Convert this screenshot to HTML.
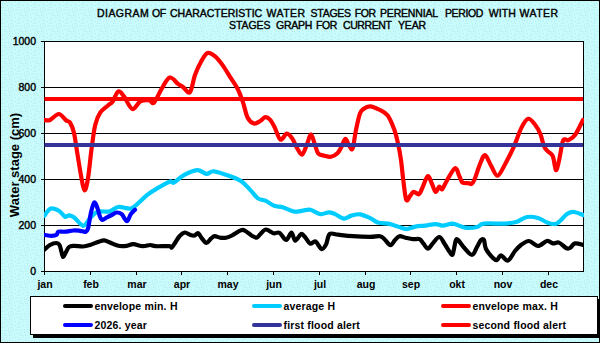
<!DOCTYPE html>
<html><head><meta charset="utf-8"><style>
html,body{margin:0;padding:0;width:600px;height:343px;overflow:hidden;background:#fff}
svg{display:block}
text{font-family:"Liberation Sans",sans-serif;font-weight:bold;fill:#000}
.t text{font-weight:normal;stroke:#000;stroke-width:0.4px}
</style></head><body>
<svg width="600" height="343" viewBox="0 0 600 343">
<defs>
<pattern id="dots" width="16" height="16" patternUnits="userSpaceOnUse">
<rect width="16" height="16" fill="#c8fcfc"/>
<path d="M0 9h1v1h-1zM1 7h1v1h-1zM2 1h1v1h-1zM2 3h1v1h-1zM2 5h1v1h-1zM2 10h1v1h-1zM2 13h1v1h-1zM3 7h1v1h-1zM4 3h1v1h-1zM4 13h1v1h-1zM4 15h1v1h-1zM5 10h1v1h-1zM6 1h1v1h-1zM6 15h1v1h-1zM7 5h1v1h-1zM8 9h1v1h-1zM8 11h1v1h-1zM9 2h1v1h-1zM9 13h1v1h-1zM9 15h1v1h-1zM10 4h1v1h-1zM10 11h1v1h-1zM11 7h1v1h-1zM11 9h1v1h-1zM11 15h1v1h-1zM12 1h1v1h-1zM12 4h1v1h-1zM12 12h1v1h-1zM13 10h1v1h-1zM14 14h1v1h-1zM15 1h1v1h-1zM15 5h1v1h-1z" fill="#b8e8f0"/>
</pattern>
<clipPath id="pc"><rect x="44" y="41" width="540" height="231"/></clipPath>
</defs>
<rect x="0.5" y="0.5" width="599" height="342" fill="url(#dots)" stroke="#000" stroke-width="1"/>
<g font-size="10.5" class="t"><text x="97.00" y="17" letter-spacing="0.45">DIAGRAM</text><text x="152.00" y="17" letter-spacing="-0.40">OF</text><text x="170.00" y="17" letter-spacing="0.00">CHARACTERISTIC</text><text x="266.60" y="17" letter-spacing="0.45">WATER</text><text x="310.60" y="17" letter-spacing="-0.27">STAGES</text><text x="354.80" y="17" letter-spacing="-0.40">FOR</text><text x="380.00" y="17" letter-spacing="-0.18">PERENNIAL</text><text x="445.00" y="17" letter-spacing="-0.40">PERIOD</text><text x="488.75" y="17" letter-spacing="0.07">WITH</text><text x="519.55" y="17" letter-spacing="0.45">WATER</text><text x="229.00" y="29" letter-spacing="-0.05">STAGES</text><text x="276.00" y="29" letter-spacing="-0.25">GRAPH</text><text x="316.00" y="29" letter-spacing="-0.40">FOR</text><text x="343.00" y="29" letter-spacing="-0.40">CURRENT</text><text x="398.00" y="29" letter-spacing="-0.15">YEAR</text></g>
<rect x="44.5" y="41.5" width="539" height="230" fill="#fff" stroke="#000" stroke-width="1"/>
<g stroke="#000" stroke-width="1"><line x1="41" y1="87.5" x2="583" y2="87.5"/><line x1="41" y1="133.5" x2="583" y2="133.5"/><line x1="41" y1="179.5" x2="583" y2="179.5"/><line x1="41" y1="225.5" x2="583" y2="225.5"/><line x1="41" y1="41.5" x2="44" y2="41.5"/><line x1="41" y1="271.5" x2="44" y2="271.5"/><line x1="44.5" y1="271" x2="44.5" y2="275"/><line x1="90.5" y1="271" x2="90.5" y2="275"/><line x1="136.5" y1="271" x2="136.5" y2="275"/><line x1="181.5" y1="271" x2="181.5" y2="275"/><line x1="227.5" y1="271" x2="227.5" y2="275"/><line x1="273.5" y1="271" x2="273.5" y2="275"/><line x1="319.5" y1="271" x2="319.5" y2="275"/><line x1="365.5" y1="271" x2="365.5" y2="275"/><line x1="410.5" y1="271" x2="410.5" y2="275"/><line x1="456.5" y1="271" x2="456.5" y2="275"/><line x1="502.5" y1="271" x2="502.5" y2="275"/><line x1="548.5" y1="271" x2="548.5" y2="275"/></g>
<g font-size="10.5" class="t"><text x="36" y="275.0" text-anchor="end">0</text><text x="36" y="229.0" text-anchor="end">200</text><text x="36" y="183.0" text-anchor="end">400</text><text x="36" y="137.0" text-anchor="end">600</text><text x="36" y="91.0" text-anchor="end">800</text><text x="36" y="45.0" text-anchor="end">1000</text></g><g font-size="10.5"><text x="45.0" y="287.5" text-anchor="middle">jan</text><text x="91.0" y="287.5" text-anchor="middle">feb</text><text x="137.0" y="287.5" text-anchor="middle">mar</text><text x="182.0" y="287.5" text-anchor="middle">apr</text><text x="228.0" y="287.5" text-anchor="middle">may</text><text x="274.0" y="287.5" text-anchor="middle">jun</text><text x="320.0" y="287.5" text-anchor="middle">jul</text><text x="366.0" y="287.5" text-anchor="middle">aug</text><text x="411.0" y="287.5" text-anchor="middle">sep</text><text x="457.0" y="287.5" text-anchor="middle">okt</text><text x="503.0" y="287.5" text-anchor="middle">nov</text><text x="549.0" y="287.5" text-anchor="middle">dec</text></g>
<text font-size="13" text-anchor="middle" transform="translate(19,165) rotate(-90)">Water stage (cm)</text>
<g fill="none" stroke-linecap="round" stroke-linejoin="round" clip-path="url(#pc)">
<path d="M44.5,249.5 C45.4,248.8 48.1,246.1 50.0,245.0 C51.9,243.9 54.4,243.0 56.0,243.0 C57.6,243.0 58.6,243.5 59.5,245.0 C60.4,246.5 60.9,250.0 61.5,252.0 C62.1,254.0 62.5,256.8 63.2,257.0 C63.9,257.2 64.5,254.7 65.5,253.0 C66.5,251.3 67.6,248.2 69.0,247.0 C70.4,245.8 71.7,245.9 74.0,245.8 C76.3,245.7 80.3,246.6 83.0,246.5 C85.7,246.4 87.5,245.8 90.0,245.0 C92.5,244.2 95.6,242.8 98.0,242.0 C100.4,241.2 102.2,240.2 104.2,240.3 C106.2,240.4 107.7,241.6 110.0,242.5 C112.3,243.4 115.5,245.2 118.3,245.8 C121.1,246.4 124.2,246.1 126.7,245.8 C129.2,245.5 130.6,244.1 133.3,244.2 C136.0,244.3 140.0,246.1 142.8,246.2 C145.7,246.3 148.3,245.0 150.4,245.0 C152.5,245.0 152.3,246.0 155.4,246.2 C158.5,246.4 166.5,246.0 169.2,246.2 C171.9,246.4 170.7,248.0 171.7,247.5 C172.7,247.0 173.7,244.9 175.0,243.0 C176.3,241.1 177.9,237.9 179.5,236.2 C181.1,234.4 182.9,232.8 184.7,232.5 C186.4,232.2 188.4,234.2 190.0,234.7 C191.6,235.2 193.1,235.8 194.5,235.5 C195.9,235.2 196.9,232.7 198.2,233.2 C199.4,233.7 200.6,236.9 202.0,238.5 C203.4,240.1 205.0,243.0 206.5,243.0 C208.0,243.0 209.6,239.6 211.0,238.5 C212.4,237.4 213.2,236.3 214.7,236.2 C216.2,236.1 218.1,237.4 220.0,237.7 C221.9,237.9 224.0,238.1 226.0,237.7 C228.0,237.3 229.5,236.8 232.0,235.5 C234.5,234.2 238.8,230.9 241.0,230.2 C243.2,229.4 243.8,230.1 245.5,231.0 C247.2,231.9 249.6,234.4 251.5,235.5 C253.4,236.6 255.2,237.9 256.7,237.7 C258.2,237.4 258.9,235.4 260.5,234.0 C262.1,232.6 263.8,229.6 266.0,229.5 C268.2,229.4 271.2,232.6 273.5,233.2 C275.8,233.8 277.4,231.7 279.5,232.8 C281.6,233.9 284.2,240.1 286.2,240.0 C288.2,239.9 290.0,232.4 291.5,232.5 C293.0,232.6 293.6,240.4 295.2,240.7 C296.8,240.9 299.6,234.6 301.2,234.0 C302.8,233.4 303.5,235.4 305.0,237.0 C306.5,238.6 308.4,242.9 310.2,243.7 C311.9,244.4 313.6,240.6 315.5,241.5 C317.4,242.4 319.8,248.5 321.5,249.0 C323.2,249.5 324.6,247.0 326.0,244.5 C327.4,242.0 327.7,235.6 329.7,234.0 C331.7,232.4 334.2,234.3 338.0,234.7 C341.8,235.1 347.2,235.8 352.6,236.2 C358.0,236.6 365.6,236.9 370.2,236.9 C374.8,236.9 377.6,235.8 380.0,236.2 C382.4,236.6 382.8,237.7 384.5,239.2 C386.2,240.7 388.8,245.1 390.5,245.2 C392.2,245.3 393.5,241.5 395.0,240.0 C396.5,238.5 397.8,236.6 399.5,236.2 C401.2,235.8 403.2,237.2 405.5,237.7 C407.8,238.2 410.6,238.9 413.0,239.2 C415.4,239.4 417.9,238.4 419.7,239.2 C421.4,239.9 422.1,242.1 423.5,243.7 C424.9,245.3 426.5,248.7 428.0,248.7 C429.5,248.7 430.6,245.6 432.5,243.7 C434.4,241.8 437.2,237.0 439.2,237.0 C441.2,237.0 442.8,241.2 444.5,243.7 C446.2,246.2 448.3,250.2 449.7,252.0 C451.1,253.8 451.7,256.1 452.7,254.2 C453.7,252.3 454.8,243.1 455.7,240.7 C456.6,238.3 456.6,238.9 458.0,240.0 C459.4,241.1 461.7,245.0 464.0,247.5 C466.3,250.0 469.8,255.1 472.0,255.0 C474.2,254.9 475.5,249.5 477.0,247.0 C478.5,244.5 479.8,241.2 481.0,240.0 C482.2,238.8 483.2,238.5 484.0,240.0 C484.8,241.5 484.5,246.0 486.0,249.0 C487.5,252.0 491.2,256.2 493.0,258.0 C494.8,259.8 495.7,260.4 497.0,260.0 C498.3,259.6 499.2,255.3 501.0,255.4 C502.8,255.5 505.7,261.3 508.0,260.6 C510.3,259.9 512.8,253.6 515.0,251.0 C517.2,248.4 518.7,246.7 521.0,245.0 C523.3,243.3 526.2,240.8 529.0,241.0 C531.8,241.2 535.0,246.0 538.0,246.0 C541.0,246.0 544.5,241.4 547.0,241.0 C549.5,240.6 551.0,243.1 553.0,243.4 C555.0,243.7 556.8,241.8 559.0,242.6 C561.2,243.4 564.2,247.1 566.0,248.0 C567.8,248.9 568.5,248.8 570.0,248.0 C571.5,247.2 572.8,243.9 575.0,243.4 C577.2,242.9 581.7,244.7 583.0,245.0" stroke="#000" stroke-width="4.2"/>
<path d="M44.2,215.8 C45.3,214.6 48.3,209.4 50.8,208.6 C53.3,207.8 56.8,209.7 59.2,211.0 C61.6,212.3 63.3,216.0 65.0,216.7 C66.7,217.4 67.7,215.2 69.2,215.3 C70.7,215.4 71.9,215.8 74.2,217.5 C76.5,219.2 80.7,225.7 83.3,225.8 C85.9,225.9 87.6,220.7 90.0,218.3 C92.4,216.0 94.3,212.8 97.5,211.7 C100.7,210.6 105.7,212.3 109.2,211.5 C112.7,210.7 114.7,207.5 118.3,207.0 C121.9,206.5 127.4,209.3 130.8,208.6 C134.2,207.9 136.0,205.0 138.8,202.7 C141.6,200.4 144.5,197.0 147.6,194.6 C150.7,192.2 153.8,190.3 157.6,188.1 C161.3,185.9 167.4,182.3 170.1,181.4 C172.8,180.5 171.6,183.7 173.9,182.6 C176.2,181.5 180.0,177.2 183.9,175.1 C187.8,173.0 193.4,170.3 197.2,170.1 C201.0,169.9 203.7,173.6 206.5,173.8 C209.3,174.0 210.0,170.9 214.0,171.3 C218.0,171.7 225.7,174.6 230.3,176.3 C234.9,178.0 238.2,179.1 241.6,181.4 C244.9,183.7 247.7,187.3 250.4,190.1 C253.1,192.9 255.4,196.6 257.9,198.4 C260.4,200.2 262.7,199.5 265.4,200.7 C268.1,201.9 271.3,204.6 274.2,205.7 C277.1,206.8 279.5,206.3 282.8,207.3 C286.1,208.3 290.8,211.1 294.1,211.6 C297.5,212.1 300.2,210.9 302.9,210.6 C305.6,210.3 307.5,209.2 310.4,209.8 C313.3,210.4 317.4,213.7 320.5,214.1 C323.6,214.5 326.4,212.3 328.8,212.3 C331.2,212.3 332.5,213.1 335.0,214.1 C337.5,215.1 341.1,218.3 343.8,218.6 C346.5,218.8 348.7,216.3 351.4,215.6 C354.1,214.9 357.0,213.9 360.1,214.3 C363.2,214.7 367.3,216.8 370.2,218.1 C373.1,219.4 374.4,221.4 377.7,222.4 C381.0,223.4 386.8,223.4 390.2,224.1 C393.6,224.8 395.1,225.8 397.8,226.6 C400.5,227.4 403.6,229.1 406.5,229.1 C409.4,229.1 412.2,227.2 415.3,226.6 C418.4,226.0 422.0,226.0 425.3,225.6 C428.6,225.2 432.5,224.1 435.4,224.1 C438.3,224.1 440.0,225.7 442.9,225.6 C445.8,225.5 449.2,223.3 452.9,223.6 C456.6,223.9 461.0,227.0 465.0,227.6 C469.0,228.2 473.8,227.7 477.0,227.0 C480.2,226.3 479.3,224.2 484.0,223.6 C488.7,223.0 499.7,223.9 505.0,223.6 C510.3,223.3 512.3,223.1 516.0,222.0 C519.7,220.9 523.3,217.7 527.0,217.0 C530.7,216.3 534.7,217.1 538.0,218.0 C541.3,218.9 544.2,221.4 547.0,222.4 C549.8,223.4 552.8,224.2 555.0,224.0 C557.2,223.8 558.0,222.7 560.0,221.0 C562.0,219.3 564.7,215.5 567.0,214.0 C569.3,212.5 571.3,211.8 574.0,212.0 C576.7,212.2 581.5,214.5 583.0,215.0" stroke="#00ccff" stroke-width="4.2"/>
<path d="M44.0,120.0 C45.0,120.0 47.5,121.0 50.0,120.0 C52.5,119.0 56.1,113.9 58.8,114.0 C61.5,114.1 64.4,119.1 66.3,120.5 C68.2,121.9 68.7,120.5 70.0,122.5 C71.3,124.5 72.6,127.2 73.9,132.6 C75.2,138.0 76.3,147.5 77.6,155.0 C78.8,162.5 80.3,171.8 81.4,177.7 C82.5,183.6 83.4,189.9 84.4,190.3 C85.5,190.7 86.5,186.9 87.7,180.2 C88.9,173.5 90.2,159.3 91.4,150.1 C92.7,140.9 93.7,131.2 95.2,125.0 C96.7,118.8 98.1,115.9 100.2,112.7 C102.3,109.5 105.6,107.6 107.7,105.7 C109.8,103.8 110.9,103.8 112.7,101.4 C114.5,99.0 116.4,92.2 118.3,91.4 C120.2,90.6 121.7,93.5 124.0,96.4 C126.3,99.3 129.6,108.2 132.3,109.0 C135.0,109.8 137.5,102.9 140.3,101.4 C143.1,99.9 146.7,100.0 149.0,100.2 C151.3,100.4 151.9,104.6 154.0,102.7 C156.1,100.8 159.0,93.1 161.6,88.9 C164.2,84.7 167.0,78.4 169.7,77.6 C172.4,76.8 175.8,82.3 178.0,83.9 C180.2,85.5 181.0,85.6 183.0,87.0 C185.0,88.4 188.0,94.2 190.0,92.2 C192.0,90.2 193.1,80.2 195.0,75.1 C196.9,69.9 199.2,65.0 201.3,61.3 C203.4,57.6 205.3,53.8 207.6,53.0 C209.9,52.2 212.6,54.3 215.1,56.3 C217.6,58.3 220.1,61.6 222.6,65.1 C225.1,68.6 227.7,73.1 230.2,77.1 C232.7,81.1 235.6,84.9 237.7,88.9 C239.8,93.0 241.0,96.6 242.7,101.4 C244.4,106.2 245.8,114.1 247.7,117.8 C249.6,121.5 251.9,123.0 254.0,123.5 C256.1,124.0 258.4,122.0 260.3,121.0 C262.2,120.0 263.7,117.4 265.3,117.2 C266.9,117.0 268.4,117.9 270.0,119.6 C271.6,121.3 273.1,124.2 274.8,127.6 C276.5,130.9 278.4,138.7 280.4,139.7 C282.4,140.7 284.8,133.8 286.8,133.7 C288.8,133.6 290.8,136.4 292.5,138.9 C294.2,141.4 295.7,145.9 297.3,148.5 C298.9,151.1 300.5,155.3 302.1,154.6 C303.7,153.9 305.4,147.9 306.9,144.5 C308.4,141.1 309.6,134.4 310.9,134.4 C312.2,134.4 313.7,141.3 314.9,144.5 C316.1,147.7 316.5,151.4 318.1,153.3 C319.7,155.2 322.4,155.1 324.5,155.7 C326.6,156.3 328.9,157.2 331.0,156.8 C333.1,156.4 335.7,155.0 337.4,153.3 C339.1,151.7 340.1,149.3 341.4,146.9 C342.7,144.5 344.1,139.0 345.4,138.9 C346.7,138.8 348.2,144.5 349.4,146.1 C350.6,147.7 351.5,151.0 352.6,148.5 C353.7,146.0 354.6,136.7 355.8,130.9 C357.0,125.2 358.5,117.7 359.8,114.0 C361.1,110.3 361.8,110.3 363.5,109.0 C365.2,107.7 367.6,106.2 370.2,106.3 C372.8,106.4 376.0,108.0 378.9,109.5 C381.8,111.0 385.2,112.3 387.7,115.5 C390.2,118.7 392.3,124.3 394.0,128.8 C395.7,133.3 396.6,137.4 397.8,142.6 C399.0,147.8 400.1,153.8 401.0,160.0 C401.9,166.2 402.3,172.9 403.2,179.5 C404.1,186.1 405.1,196.9 406.2,199.7 C407.3,202.4 408.8,197.3 410.0,196.0 C411.2,194.7 412.2,192.1 413.7,191.8 C415.2,191.5 417.5,195.0 419.0,194.2 C420.5,193.4 421.2,190.0 422.7,187.0 C424.1,184.0 426.2,176.8 427.7,176.2 C429.2,175.6 430.4,180.6 431.7,183.2 C433.0,185.8 434.2,191.2 435.5,191.8 C436.8,192.4 438.1,187.1 439.2,186.7 C440.3,186.3 440.9,190.1 442.2,189.2 C443.4,188.2 444.6,184.5 446.7,181.0 C448.8,177.5 452.9,168.9 455.0,168.2 C457.1,167.4 458.2,174.1 459.5,176.5 C460.8,178.9 461.0,181.4 462.5,182.5 C464.0,183.6 467.0,182.9 468.5,183.2 C470.0,183.4 470.5,184.6 471.5,184.0 C472.5,183.4 473.1,182.8 474.5,179.5 C475.9,176.2 478.3,168.0 480.1,163.9 C481.9,159.8 483.2,154.7 485.1,155.1 C487.0,155.5 489.3,163.0 491.4,166.4 C493.5,169.8 495.4,176.1 497.7,175.7 C500.0,175.3 502.5,168.8 505.2,163.9 C507.9,159.0 511.3,152.5 514.0,146.4 C516.7,140.3 519.1,132.2 521.5,127.6 C523.9,123.0 526.0,119.2 528.3,118.8 C530.6,118.4 533.3,122.5 535.3,125.0 C537.3,127.5 538.8,130.2 540.3,133.8 C541.8,137.4 542.8,143.5 544.1,146.4 C545.4,149.3 546.4,149.7 547.9,151.4 C549.4,153.1 551.6,153.3 552.9,156.4 C554.2,159.5 554.9,169.6 555.9,170.2 C556.9,170.8 558.0,164.9 559.1,160.2 C560.2,155.5 561.6,145.5 562.6,142.0 C563.6,138.5 564.0,139.6 565.0,139.3 C566.0,139.0 566.8,141.0 568.5,140.2 C570.2,139.4 573.0,137.9 575.4,134.5 C577.8,131.1 581.7,122.4 583.0,120.0" stroke="#ff0000" stroke-width="4.2"/>
<path d="M45.0,235.0 C46.1,235.1 49.8,235.9 51.7,235.8 C53.7,235.8 55.6,235.4 56.7,234.7 C57.8,234.0 56.9,232.2 58.3,231.7 C59.7,231.2 62.5,231.9 65.0,231.7 C67.5,231.5 70.8,230.7 73.3,230.5 C75.8,230.3 77.9,230.6 80.0,230.8 C82.1,231.0 84.4,232.2 85.8,231.7 C87.2,231.1 87.5,230.6 88.3,227.5 C89.1,224.4 89.8,217.5 90.8,213.3 C91.8,209.1 93.1,203.3 94.2,202.5 C95.3,201.7 96.5,205.9 97.5,208.3 C98.5,210.7 99.2,214.8 100.0,216.7 C100.8,218.6 101.4,219.9 102.5,220.0 C103.6,220.1 105.2,218.3 106.7,217.5 C108.2,216.7 110.0,215.8 111.7,215.0 C113.4,214.2 115.0,212.6 116.7,212.5 C118.4,212.4 120.3,213.1 121.7,214.2 C123.1,215.3 124.0,218.1 125.0,219.2 C126.0,220.3 126.5,221.6 127.5,220.8 C128.5,220.0 129.6,216.0 130.8,214.2 C132.1,212.3 134.3,210.4 135.0,209.7" stroke="#0000ff" stroke-width="4.2"/>
<line x1="44.5" y1="145" x2="583" y2="145" stroke="#333399" stroke-width="4" stroke-linecap="butt"/>
<line x1="44.5" y1="99" x2="583" y2="99" stroke="#ff0000" stroke-width="4" stroke-linecap="butt"/>
</g>
<rect x="33" y="299" width="567" height="39" fill="#000"/>
<rect x="30.5" y="296.5" width="567" height="38" fill="#fff" stroke="#000" stroke-width="1"/>
<g stroke-width="4" stroke-linecap="round">
<line x1="65" y1="306" x2="91" y2="306" stroke="#000"/>
<line x1="65" y1="325" x2="91" y2="325" stroke="#0000ff"/>
<line x1="254" y1="306" x2="280" y2="306" stroke="#00ccff"/>
<line x1="254" y1="325" x2="280" y2="325" stroke="#333399"/>
<line x1="443" y1="306" x2="469" y2="306" stroke="#ff0000"/>
<line x1="443" y1="325" x2="469" y2="325" stroke="#ff0000"/>
</g>
<g font-size="10.5" letter-spacing="0.15" word-spacing="0.2">
<text x="94.5" y="310">envelope min. H</text>
<text x="94.5" y="329">2026. year</text>
<text x="283.5" y="310">average H</text>
<text x="283.5" y="329">first flood alert</text>
<text x="472.5" y="310">envelope max. H</text>
<text x="472.5" y="329">second flood alert</text>
</g>
</svg>
</body></html>
